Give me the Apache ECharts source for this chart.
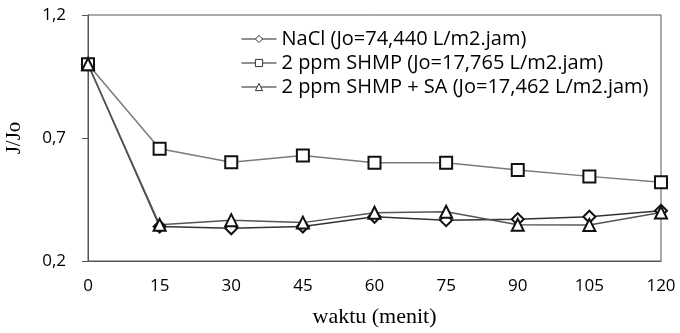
<!DOCTYPE html>
<html>
<head>
<meta charset="utf-8">
<script src="https://cdn.jsdelivr.net/npm/echarts@6/dist/echarts.min.js"></script>
<style>
  html, body { margin: 0; padding: 0; background: #fff; }
  #chart { width: 680px; height: 333px; }
</style>
</head>
<body>
<div id="chart"></div>
<script>
// time in minutes
var waktu = [0, 15, 30, 45, 60, 75, 90, 105, 120];
var nacl = [1.0, 0.340, 0.333, 0.340, 0.380, 0.366, 0.370, 0.380, 0.404];
var shmp = [1.0, 0.656, 0.601, 0.629, 0.599, 0.599, 0.570, 0.544, 0.520];
var shmpSa = [1.0, 0.347, 0.366, 0.356, 0.396, 0.400, 0.347, 0.346, 0.397];
var yTicks = [0.2, 0.7, 1.2];
var names = ['NaCl (Jo=74,440 L/m2.jam)', '2 ppm SHMP (Jo=17,765 L/m2.jam)', '2 ppm SHMP + SA (Jo=17,462 L/m2.jam)'];

function pairs(vals) {
    return waktu.map(function (t, i) { return [t, vals[i]]; });
}

var chart = echarts.init(document.getElementById('chart'));

function mkSeries(name, vals, symbol, size, lineColor) {
    return {
        name: name,
        type: 'line',
        data: pairs(vals),
        symbol: symbol,
        symbolSize: size,
        showAllSymbol: true,
        lineStyle: { color: lineColor, width: 1.5 },
        itemStyle: { color: '#fff', borderColor: '#111', borderWidth: 2 },
        emphasis: { disabled: true },
        animation: false
    };
}

var legendItem = function (n) {
    return {
        name: n,
        itemStyle: { borderWidth: 1, borderColor: '#333' },
        lineStyle: { color: '#222', width: 1 }
    };
};

chart.setOption({
    backgroundColor: '#fff',
    grid: {
        left: 88, right: 19, top: 15, bottom: 72,
        outerBoundsMode: 'none',
        show: true, borderColor: '#555', borderWidth: 1
    },
    legend: {
        orient: 'vertical',
        left: 241, top: 29, padding: 0,
        itemWidth: 35, itemHeight: 9, itemGap: 4,
        textStyle: { fontFamily: 'Open Sans', fontSize: 20, color: '#000' },
        data: names.map(legendItem)
    },
    xAxis: {
        type: 'value',
        min: 0, max: 120, interval: 15,
        name: 'waktu (menit)',
        nameLocation: 'middle',
        nameGap: 45,
        nameTextStyle: { fontFamily: 'Liberation Serif', fontSize: 22, color: '#000' },
        axisLine: { lineStyle: { color: '#555', width: 1 } },
        axisTick: { show: false },
        splitLine: { show: false },
        axisLabel: { fontFamily: 'Open Sans', fontSize: 17, color: '#000', margin: 17 }
    },
    yAxis: {
        type: 'value',
        min: 0.2, max: 1.2,
        name: 'J/Jo',
        nameLocation: 'middle',
        nameGap: 63,
        nameTextStyle: { fontFamily: 'Liberation Serif', fontSize: 21, color: '#000' },
        axisLine: { show: true, lineStyle: { color: '#555', width: 1 } },
        axisTick: { show: true, length: 6, customValues: yTicks, lineStyle: { color: '#555' } },
        splitLine: { show: false },
        axisLabel: {
            customValues: yTicks,
            fontFamily: 'Open Sans', fontSize: 17, color: '#000', margin: 22,
            formatter: function (v) { return v.toFixed(1).replace('.', ','); }
        }
    },
    series: [
        mkSeries(names[0], nacl, 'diamond', 12, '#333'),
        mkSeries(names[1], shmp, 'rect', 12, '#7a7a7a'),
        mkSeries(names[2], shmpSa, 'triangle', 12, '#555')
    ]
});
</script>
</body>
</html>
